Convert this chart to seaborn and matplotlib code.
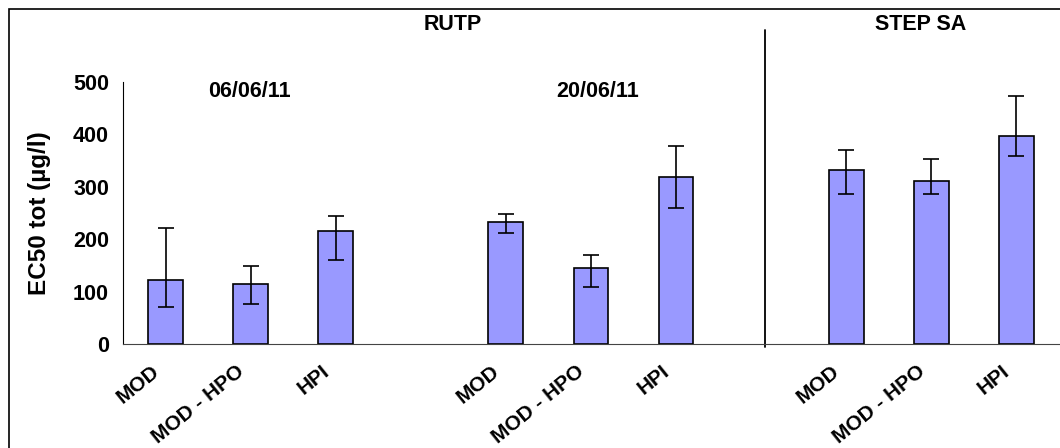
import numpy as np
import pandas as pd
import seaborn as sns
import matplotlib.pyplot as plt
import matplotlib.transforms as mtransforms
from matplotlib.patches import Rectangle

# 11 category slots: 3 bars, gap, 3 bars, gap, 3 bars
labels = ["MOD", "MOD - HPO", "HPI", "", "MOD", "MOD - HPO", "HPI", "", "MOD", "MOD - HPO", "HPI"]
ec50 = [122, 115, 216, np.nan, 232, 145, 318, np.nan, 332, 312, 396]
err_high = [222, 148, 244, np.nan, 248, 170, 377, np.nan, 370, 354, 474]
err_low = [71, 76, 160, np.nan, 212, 109, 260, np.nan, 287, 287, 358]
yticks = [0, 100, 200, 300, 400, 500]

slots = list(range(len(labels)))
df = pd.DataFrame({"slot": slots, "ec50": ec50, "high": err_high, "low": err_low})

sns.set_style("white")
plt.rcParams['font.family'] = ['Liberation Sans', 'DejaVu Sans']
plt.rcParams['font.weight'] = 'bold'
plt.rcParams['text.color'] = 'black'
plt.rcParams['axes.labelcolor'] = 'black'
plt.rcParams['xtick.color'] = 'black'
plt.rcParams['ytick.color'] = 'black'

fig = plt.figure(figsize=(10.6, 4.48), dpi=100)
ax = fig.add_axes([0.116, 0.232, 0.883, 0.585])

sns.barplot(data=df, x="slot", y="ec50", order=slots, color="#9999FF",
            saturation=1, edgecolor="black", linewidth=1.2, width=0.41,
            errorbar=None, ax=ax)

bars = df.dropna()
ax.errorbar(bars["slot"], bars["ec50"],
            yerr=[bars["ec50"] - bars["low"], bars["high"] - bars["ec50"]],
            fmt="none", ecolor="black", elinewidth=1.2, capsize=6, capthick=1.2)

ax.set_xlim(-0.5, 10.5)
ax.set_ylim(0, 500)
ax.set_yticks(yticks)
ax.set_yticklabels([str(t) for t in yticks], fontsize=15.5, fontweight="bold")
ax.tick_params(axis="y", direction="out", length=6, width=1, colors="black", pad=4)

ax.set_xticks(slots)
ax.set_xticklabels(labels, rotation=39, ha="right", va="center",
                   rotation_mode="anchor", fontsize=15, fontweight="bold")
ax.tick_params(axis="x", which="major", length=0, pad=18)
shift = mtransforms.ScaledTranslation(-0.09, 0, fig.dpi_scale_trans)
for lab in ax.get_xticklabels():
    lab.set_transform(lab.get_transform() + shift)
ax.set_xticks(np.arange(-0.5, 11, 1), minor=True)
ax.tick_params(axis="x", which="minor", direction="out", length=6, width=1, color="#444444")

ax.set_xlabel("")
ax.set_ylabel("EC50 tot (µg/l)", fontsize=17.5, fontweight="bold", labelpad=16)

for s in ["top", "right"]:
    ax.spines[s].set_visible(False)
ax.spines["left"].set_color("black")
ax.spines["bottom"].set_color("#444444")

# separator between RUTP and STEP SA
ax.plot([7.05, 7.05], [-6, 600], color="black", lw=1.3, clip_on=False)

ax.text(3.38, 610, "RUTP", ha="center", va="center", fontsize=15.5, fontweight="bold")
ax.text(8.88, 610, "STEP SA", ha="center", va="center", fontsize=15.5, fontweight="bold")
ax.text(0.99, 481, "06/06/11", ha="center", va="center", fontsize=15.5, fontweight="bold")
ax.text(5.08, 481, "20/06/11", ha="center", va="center", fontsize=15.5, fontweight="bold")

# chart area frame (cropped at right and bottom)
fig.patches.append(Rectangle((9 / 1060, -0.1), 1.2, 1.1 - 9 / 448,
                             transform=fig.transFigure, fill=False,
                             edgecolor="black", lw=1.2))

fig.savefig("out.png", dpi=100)
